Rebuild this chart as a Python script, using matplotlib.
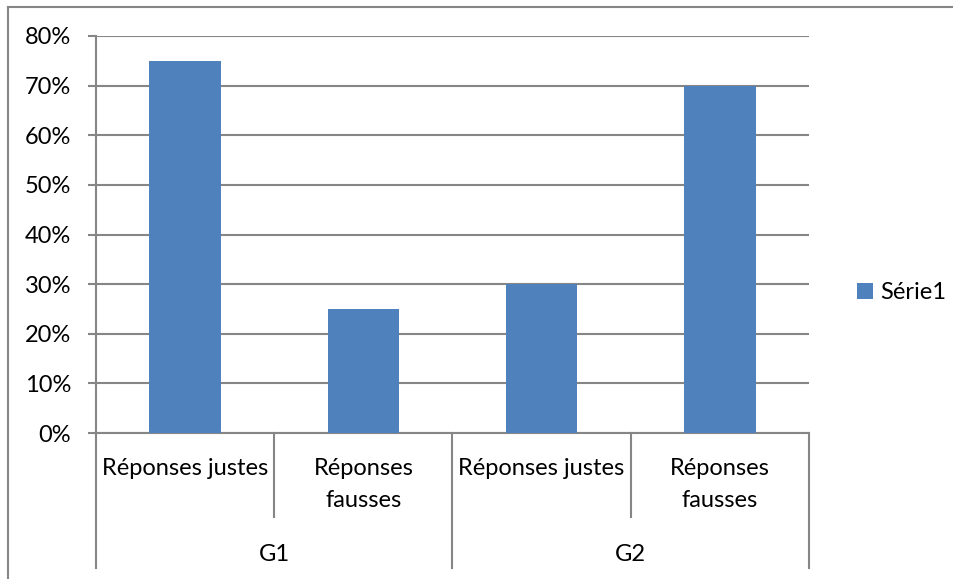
import numpy as np
import matplotlib.pyplot as plt
import matplotlib.transforms as mtransforms
from matplotlib.lines import Line2D
from matplotlib.ticker import PercentFormatter

groups = ['G1', 'G2']
categories = ['Réponses justes', 'Réponses\nfausses', 'Réponses justes', 'Réponses\nfausses']
values = [0.75, 0.25, 0.30, 0.70]
series_name = 'Série1'

bar_color = '#4F81BD'
line_color = '#868686'
fs = 17

plt.rcParams['font.family'] = ['Lato', 'DejaVu Sans']

fig = plt.figure(figsize=(9.54, 5.79), dpi=100)
ax = fig.add_axes([96 / 954, 1 - 433 / 579, (809 - 96) / 954, (433 - 36) / 579])

x = np.arange(len(values))
ax.bar(x, values, width=0.4, color=bar_color, label=series_name, zorder=3)

ax.set_xlim(-0.5, len(values) - 0.5)
ax.set_ylim(0, 0.8)
ax.set_yticks(np.arange(0, 0.81, 0.1))
ax.yaxis.set_major_formatter(PercentFormatter(1.0, decimals=0))
ax.grid(axis='y', color=line_color, linewidth=1.5, zorder=0)
ax.tick_params(axis='y', length=6, width=1.5, color=line_color, pad=12, labelsize=fs)
ax.set_xticks([])
for s in ['top', 'right']:
    ax.spines[s].set_visible(False)
for s in ['left', 'bottom']:
    ax.spines[s].set_color(line_color)
    ax.spines[s].set_linewidth(1.5)

# multi-level category axis
trans = mtransforms.blended_transform_factory(ax.transData, ax.transAxes)
bounds = np.arange(len(values) + 1) - 0.5
n_per_group = len(values) // len(groups)
for i, b in enumerate(bounds):
    bottom = -0.340 if i % n_per_group == 0 else -0.212
    ax.add_line(Line2D([b, b], [0, bottom], transform=trans, color=line_color,
                       linewidth=1.5, clip_on=False))
for i, lab in enumerate(categories):
    ax.text(x[i], -0.064, lab, transform=trans, ha='center', va='top',
            fontsize=fs, linespacing=1.6, multialignment='center')
for g, name in enumerate(groups):
    cx = (g * n_per_group + (g + 1) * n_per_group - 1) / 2
    ax.text(cx, -0.305, name, transform=trans, ha='center', va='center', fontsize=fs)

ax.legend(loc='center left', bbox_to_anchor=(848 / 954, 1 - 293 / 579),
          bbox_transform=fig.transFigure, frameon=False, fontsize=fs,
          handlelength=0.65, handleheight=0.65, handletextpad=0.3, borderaxespad=0)

# chart area border (left and top)
fig.add_artist(Line2D([8 / 954, 8 / 954], [0, 1 - 7 / 579], transform=fig.transFigure,
                      color=line_color, linewidth=1.5))
fig.add_artist(Line2D([8 / 954, 1], [1 - 7 / 579, 1 - 7 / 579], transform=fig.transFigure,
                      color=line_color, linewidth=1.5))

fig.savefig('out.png', dpi=100)
